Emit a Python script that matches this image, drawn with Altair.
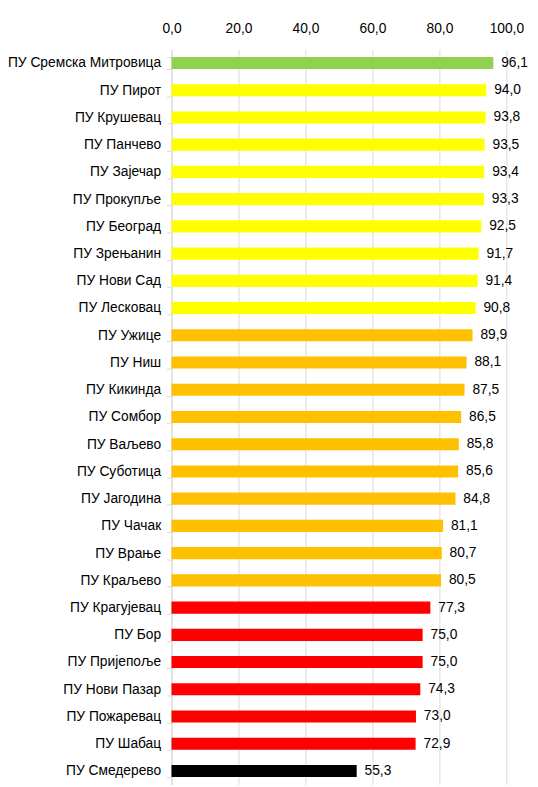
import altair as alt
import pandas as pd

names = ["ПУ Сремска Митровица", "ПУ Пирот", "ПУ Крушевац", "ПУ Панчево", "ПУ Зајечар",
         "ПУ Прокупље", "ПУ Београд", "ПУ Зрењанин", "ПУ Нови Сад", "ПУ Лесковац",
         "ПУ Ужице", "ПУ Ниш", "ПУ Кикинда", "ПУ Сомбор", "ПУ Ваљево", "ПУ Суботица",
         "ПУ Јагодина", "ПУ Чачак", "ПУ Врање", "ПУ Краљево", "ПУ Крагујевац", "ПУ Бор",
         "ПУ Пријепоље", "ПУ Нови Пазар", "ПУ Пожаревац", "ПУ Шабац", "ПУ Смедерево"]
values = [96.1, 94.0, 93.8, 93.5, 93.4, 93.3, 92.5, 91.7, 91.4, 90.8,
          89.9, 88.1, 87.5, 86.5, 85.8, 85.6, 84.8, 81.1, 80.7, 80.5,
          77.3, 75.0, 75.0, 74.3, 73.0, 72.9, 55.3]
colors = ["#92D050"] + ["#FFFF00"] * 9 + ["#FFC000"] * 10 + ["#FF0000"] * 6 + ["#000000"]

df = pd.DataFrame({"name": names, "value": values, "color": colors})

FONT = "Liberation Sans"
FS = 14

y_scale = alt.Scale(paddingInner=0.555, paddingOuter=0.2775, round=False)

y_enc = alt.Y("name:N", sort=names, scale=y_scale,
              axis=alt.Axis(title=None, domainColor="#D9D9D9", tickColor="#D9D9D9",
                            tickBand="extent", tickSize=5, labelPadding=6,
                            labelFontSize=FS, labelFont=FONT, labelColor="#000000",
                            grid=False, labelLimit=220))
x_enc = alt.X("value:Q", scale=alt.Scale(domain=[0, 100], round=False),
              axis=alt.Axis(orient="top", title=None, values=[0, 20, 40, 60, 80, 100],
                            labelExpr="replace(format(datum.value, '.1f'), '.', ',')",
                            ticks=False, domain=False, gridColor="#D9D9D9",
                            labelFlush=False, labelOverlap=False,
                            labelFontSize=FS, labelFont=FONT, labelColor="#000000",
                            labelPadding=14))

bars = alt.Chart(df).mark_bar().encode(
    x=x_enc, y=y_enc, color=alt.Color("color:N", scale=None))

labels = alt.Chart(df).transform_calculate(
    lbl="replace(format(datum.value, '.1f'), '.', ',')"
).mark_text(align="left", baseline="middle", dx=8, fontSize=FS, font=FONT,
            color="#000000").encode(
    x="value:Q", y=alt.Y("name:N", sort=names), text="lbl:N")

chart = (bars + labels).properties(
    width=340, height=746.5,
    autosize=alt.AutoSizeParams(type="none"),
    padding={"left": 166, "top": 36, "right": 24, "bottom": 0},
).configure_view(stroke=None, clip=False)

chart.save("out.html", embed_options={"renderer": "svg", "actions": False})
